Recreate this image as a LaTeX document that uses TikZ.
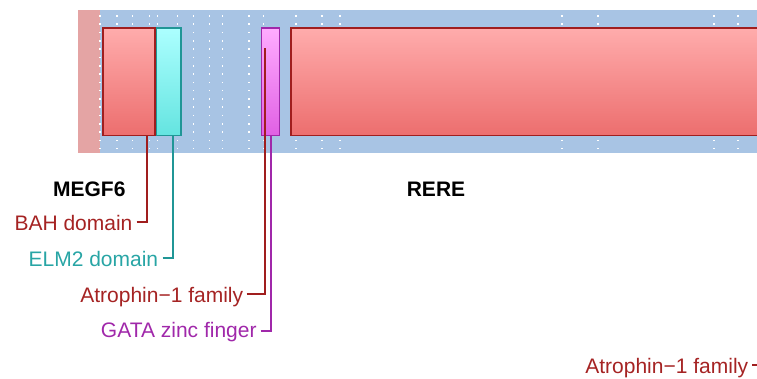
\documentclass[tikz,border=0pt]{standalone}
\usepackage{fontspec}
\setmainfont{Liberation Sans}
\usetikzlibrary{positioning}
\definecolor{bgblue}{RGB}{168,196,228}
\definecolor{strip}{RGB}{228,164,164}
\definecolor{redtop}{RGB}{255,172,172}
\definecolor{redbot}{RGB}{236,110,110}
\definecolor{redline}{RGB}{160,30,30}
\definecolor{redtext}{RGB}{165,35,35}
\definecolor{cyantop}{RGB}{172,255,255}
\definecolor{cyanbot}{RGB}{100,228,224}
\definecolor{cyanline}{RGB}{32,150,150}
\definecolor{cyantext}{RGB}{40,165,165}
\definecolor{magtop}{RGB}{255,172,255}
\definecolor{magbot}{RGB}{224,96,228}
\definecolor{magline}{RGB}{160,40,170}
\definecolor{magtext}{RGB}{160,40,170}
\tikzset{
  dombox/.style={draw, line width=1.4pt, minimum height=107.7pt, inner sep=0pt, anchor=north west},
  redbox/.style={dombox, draw=redline, top color=redtop, bottom color=redbot},
  cyanbox/.style={dombox, draw=cyanline, top color=cyantop, bottom color=cyanbot},
  magbox/.style={dombox, draw=magline, top color=magtop, bottom color=magbot},
  lbl/.style={inner sep=0pt, anchor=base east, font=\fontsize{21}{25}\selectfont},
  gene/.style={inner sep=0pt, anchor=base, font=\fontsize{21}{25}\selectfont\bfseries},
  conn/.style={line width=1.9pt},
  dot/.style={fill=white, draw=none}
}
\begin{document}
\begin{tikzpicture}[x=1pt,y=-1pt]
\useasboundingbox (0,0) rectangle (757,378);
\clip (0,0) rectangle (757,378);
% background track
\fill[bgblue] (100,10) rectangle (757,153);
\fill[strip] (78,10) rectangle (100,153);
% dot grid
\foreach \x in {100,116.7,132.3,149.3,157.3,177.3,193.3,209.3,222.3,248.7,263.3,295.7,321.7,340,562,597.7,713.7,737.7} {
  \foreach \i in {0,...,16} {
    \fill[dot] ({\x-0.8},{16+8.29*\i-0.8}) rectangle ++(1.6,1.6);
  }
}
% domain boxes
\node[redbox, minimum width=52pt] (bah) at (102.3,27.3) {};
\node[cyanbox, minimum width=24.6pt] (elm) at (155.7,27.3) {};
\node[magbox, minimum width=18pt] (gata) at (261,27.3) {};
\node[redbox, minimum width=480pt] (atro2) at (290.3,27.3) {};
% gene names
\node[gene] (megf) at (89.3,196.7) {MEGF6};
\node[gene] (rere) at (436,196.7) {RERE};
% labels
\node[lbl, text=redtext] (bahlbl) at (132.6,230.7) {BAH domain};
\node[lbl, text=cyantext] (elmlbl) at (158.4,266.7) {ELM2 domain};
\node[lbl, text=redtext] (atrolbl) at (243.4,302.3) {Atrophin−1 family};
\node[lbl, text=magtext] (gatalbl) at (256.8,337.6) {GATA zinc finger};
\node[lbl, text=redtext] (atrolbltwo) at (748.4,373.3) {Atrophin−1 family};
% connector coordinates
\coordinate (bahend) at (136.7,222.3);
\coordinate (bahpin) at (147,135);
\coordinate (elmend) at (162.7,258.3);
\coordinate (elmpin) at (173.3,135);
\coordinate (atroend) at (246.7,294.3);
\coordinate (atropin) at (264.6,48.3);
\coordinate (gataend) at (260.7,331);
\coordinate (gatapin) at (271.2,135);
\coordinate (atrotwoend) at (752.3,365);
\coordinate (atrotwopin) at (757,365);
% connectors
\draw[conn, redline] (bahend) -| (bahpin);
\draw[conn, cyanline] (elmend) -| (elmpin);
\draw[conn, redline] (atroend) -| (atropin);
\draw[conn, magline] (gataend) -| (gatapin);
\draw[conn, redline] (atrotwoend) -- (atrotwopin);
\end{tikzpicture}
\end{document}
